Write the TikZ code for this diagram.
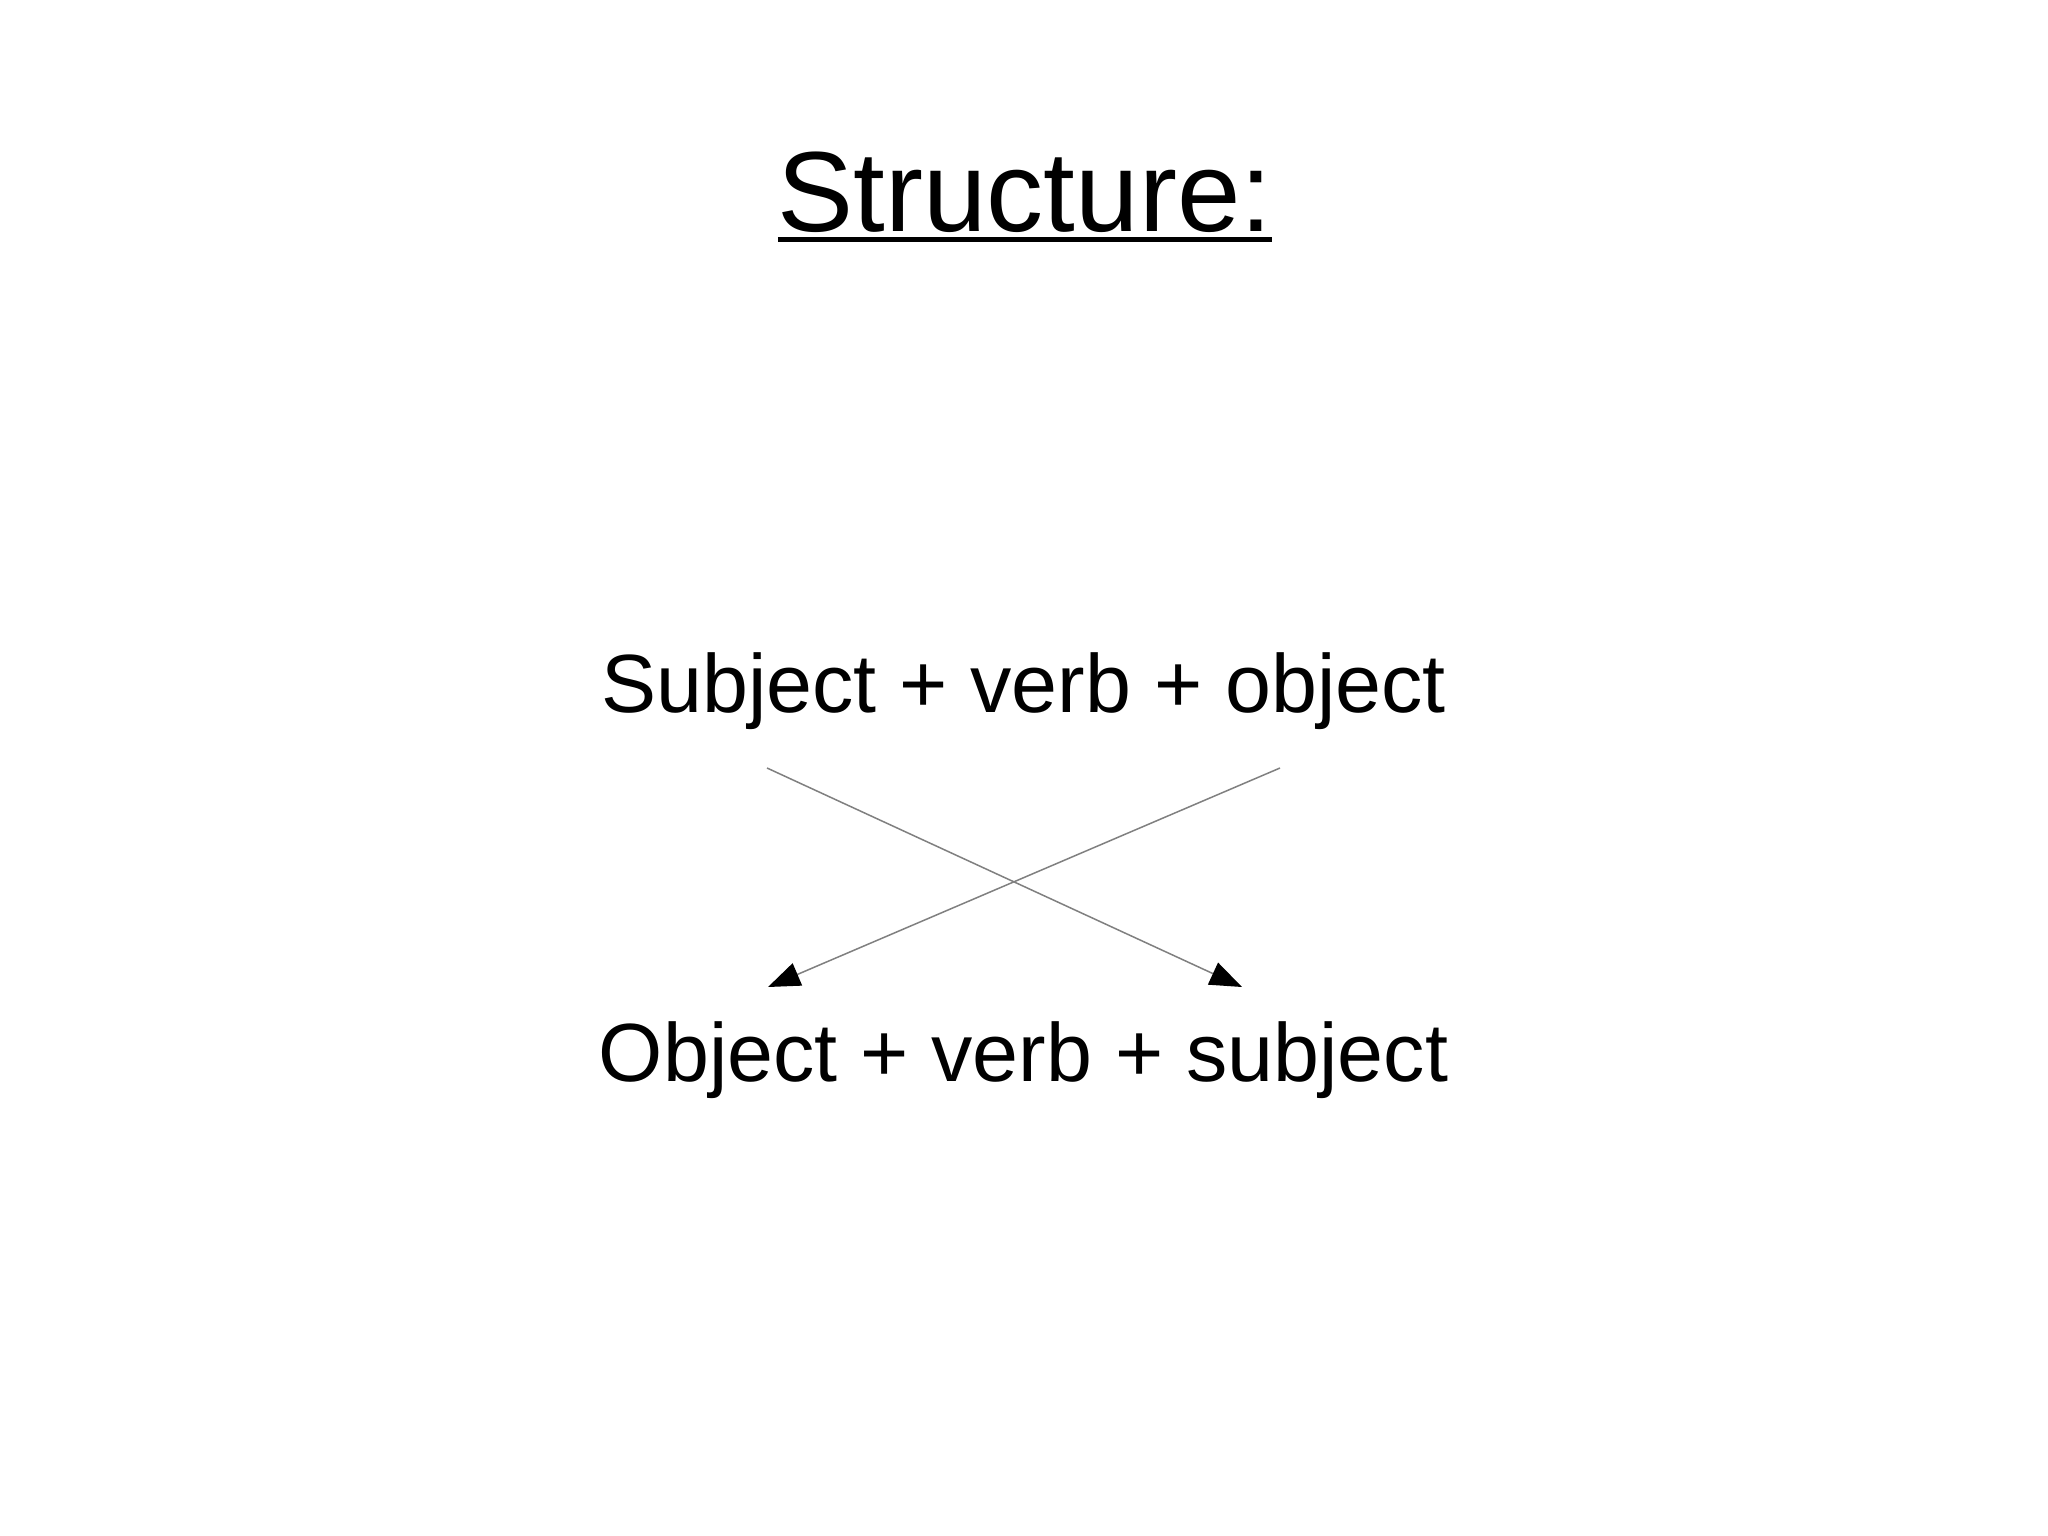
\documentclass[tikz,border=0pt]{standalone}
\usepackage{fontspec}
\setmainfont{Liberation Sans}
\usetikzlibrary{arrows.meta}
\begin{document}
\begin{tikzpicture}[x=0.5pt,y=-0.5pt,
  lbl/.style={inner sep=0pt, outer sep=0pt, anchor=base, font=\fontsize{41.3}{50}\selectfont},
  ttl/.style={inner sep=0pt, outer sep=0pt, anchor=base, font=\fontsize{57}{68}\selectfont},
  conn/.style={draw=black!50, line width=0.75pt, -{Triangle[length=16pt,width=12pt,fill=black,color=black]}}]
\useasboundingbox[fill=white] (0,0) rectangle (2048,1535);
\node[ttl] (title) at (1025,232) {Structure:};
\draw[line width=2.5pt] ([yshift=-3.7pt]title.base west) -- ([yshift=-3.7pt]title.base east);
\node[lbl] (svo) at (1023.5,712) {Subject + verb + object};
\node[lbl] (ovs) at (1023.5,1081) {Object + verb + subject};
\coordinate (s1) at (767,768);
\coordinate (s2) at (1280,768);
\coordinate (e1) at (1242,987);
\coordinate (e2) at (768,987);
\draw[conn] (s1) -- (e1);
\draw[conn] (s2) -- (e2);
\end{tikzpicture}
\end{document}
